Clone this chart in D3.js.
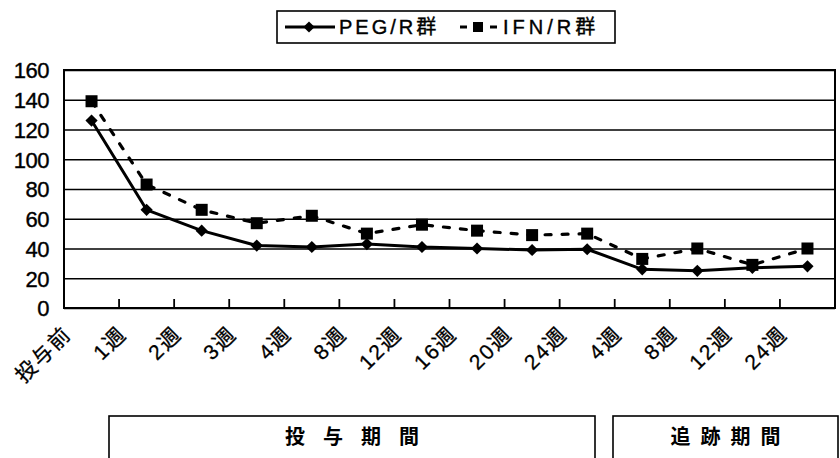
<!DOCTYPE html>
<html>
<head>
<meta charset="utf-8">
<script src="https://cdn.jsdelivr.net/npm/d3@7"></script>
<style>
  body { margin: 0; background: #fff; }
  svg { display: block; }
  text { font-family: "Liberation Sans", Arial, "Noto Sans CJK JP", sans-serif; fill: #000; }
</style>
</head>
<body>
<svg id="chart" width="840" height="458"></svg>
<script>
const categories = ["投与前","1週","2週","3週","4週","8週","12週","16週","20週","24週","4週","8週","12週","24週"];
const pegValues = [126, 66, 52, 42, 41, 43, 41, 40, 39, 39.5, 26, 25, 27, 28];
const ifnValues = [139, 83, 66, 57, 62, 50, 56, 52, 49, 50, 33, 40, 29, 40];
const yTicks = [0, 20, 40, 60, 80, 100, 120, 140, 160];
const seriesNames = ["PEG/R群", "IFN/R群"];
const periodLabels = ["投与期間", "追跡期間"];

const svg = d3.select("#chart");
const L = 64, R = 835, T = 70, B = 308;

const x = d3.scaleBand().domain(d3.range(categories.length)).range([L, R]);
const y = d3.scaleLinear().domain([0, 160]).range([B, T]);
const cx = i => x(i) + x.bandwidth() / 2;

// Gridlines + y labels
const yAxis = d3.axisLeft(y).tickValues(yTicks).tickSize(-(R - L)).tickPadding(15).tickFormat(d3.format("d"));
const gy = svg.append("g").attr("transform", `translate(${L},0)`).call(yAxis);
gy.select(".domain").remove();
gy.selectAll(".tick line").attr("stroke", "#000").attr("stroke-width", 1.6);
gy.selectAll(".tick text").attr("font-size", 22).attr("stroke", "#000").attr("stroke-width", 0.4)
  .attr("dy", "0.36em").attr("x", -15).attr("letter-spacing", -0.5);

// Plot border
svg.append("rect").attr("x", L).attr("y", T).attr("width", R - L).attr("height", B - T)
  .attr("fill", "none").attr("stroke", "#000").attr("stroke-width", 2);

// Category boundary ticks (inward)
svg.append("g").selectAll("line").data(d3.range(1, categories.length)).join("line")
  .attr("x1", i => x(i)).attr("x2", i => x(i))
  .attr("y1", B).attr("y2", B - 9)
  .attr("stroke", "#000").attr("stroke-width", 1.8);

// Category labels
svg.append("g").selectAll("text").data(categories).join("text")
  .attr("transform", (d, i) => `translate(${cx(i) - 24},330) rotate(-45)`)
  .attr("text-anchor", "end").attr("dominant-baseline", "central")
  .attr("font-size", 21).attr("letter-spacing", 2).attr("stroke", "#000").attr("stroke-width", 0.3)
  .text(d => d);

const line = d3.line().x((d, i) => cx(i)).y(d => y(d));

// PEG series
svg.append("path").datum(pegValues).attr("d", line)
  .attr("fill", "none").attr("stroke", "#000").attr("stroke-width", 3).attr("stroke-linejoin", "round");
svg.append("g").selectAll("path").data(pegValues).join("path")
  .attr("d", d3.symbol(d3.symbolDiamond2, 95))
  .attr("transform", (d, i) => `translate(${cx(i)},${y(d)})`)
  .attr("fill", "#000");

// IFN series
svg.append("path").datum(ifnValues).attr("d", line)
  .attr("fill", "none").attr("stroke", "#000").attr("stroke-width", 3.2)
  .attr("stroke-dasharray", "6 11").attr("stroke-linecap", "round");
svg.append("g").selectAll("rect").data(ifnValues).join("rect")
  .attr("x", (d, i) => cx(i) - 6).attr("y", d => y(d) - 6)
  .attr("width", 12).attr("height", 12).attr("fill", "#000");

// Legend
const lg = svg.append("g");
lg.append("rect").attr("x", 277).attr("y", 11).attr("width", 338).attr("height", 32)
  .attr("fill", "none").attr("stroke", "#000").attr("stroke-width", 1.6);
lg.append("line").attr("x1", 285).attr("x2", 335).attr("y1", 27).attr("y2", 27)
  .attr("stroke", "#000").attr("stroke-width", 3);
lg.append("path").attr("d", d3.symbol(d3.symbolDiamond2, 80)).attr("transform", "translate(309,27)").attr("fill", "#000");
lg.append("text").attr("x", 339).attr("y", 27).attr("dominant-baseline", "central")
  .attr("font-size", 20).attr("letter-spacing", 3).attr("stroke", "#000").attr("stroke-width", 0.4).text(seriesNames[0]);
lg.append("line").attr("x1", 460).attr("x2", 467).attr("y1", 27).attr("y2", 27).attr("stroke", "#000").attr("stroke-width", 3);
lg.append("rect").attr("x", 473).attr("y", 22).attr("width", 10).attr("height", 10).attr("fill", "#000");
lg.append("line").attr("x1", 490).attr("x2", 497).attr("y1", 27).attr("y2", 27).attr("stroke", "#000").attr("stroke-width", 3);
lg.append("text").attr("x", 503).attr("y", 27).attr("dominant-baseline", "central")
  .attr("font-size", 20).attr("letter-spacing", 4).attr("stroke", "#000").attr("stroke-width", 0.4).text(seriesNames[1]);

// Period boxes
const periods = [
  {x0: 109, x1: 595, label: periodLabels[0], ls: 18},
  {x0: 613, x1: 838, label: periodLabels[1], ls: 10}
];
const pg = svg.append("g");
pg.selectAll("rect").data(periods).join("rect")
  .attr("x", d => d.x0).attr("y", 416).attr("width", d => d.x1 - d.x0).attr("height", 60)
  .attr("fill", "none").attr("stroke", "#000").attr("stroke-width", 1.6);
pg.selectAll("text").data(periods).join("text")
  .attr("x", d => (d.x0 + d.x1) / 2 + d.ls / 2).attr("y", 437)
  .attr("text-anchor", "middle").attr("dominant-baseline", "central")
  .attr("font-family", "'Noto Sans CJK JP', sans-serif").attr("font-weight", "bold")
  .attr("font-size", 20).attr("letter-spacing", d => d.ls)
  .text(d => d.label);
</script>
</body>
</html>
